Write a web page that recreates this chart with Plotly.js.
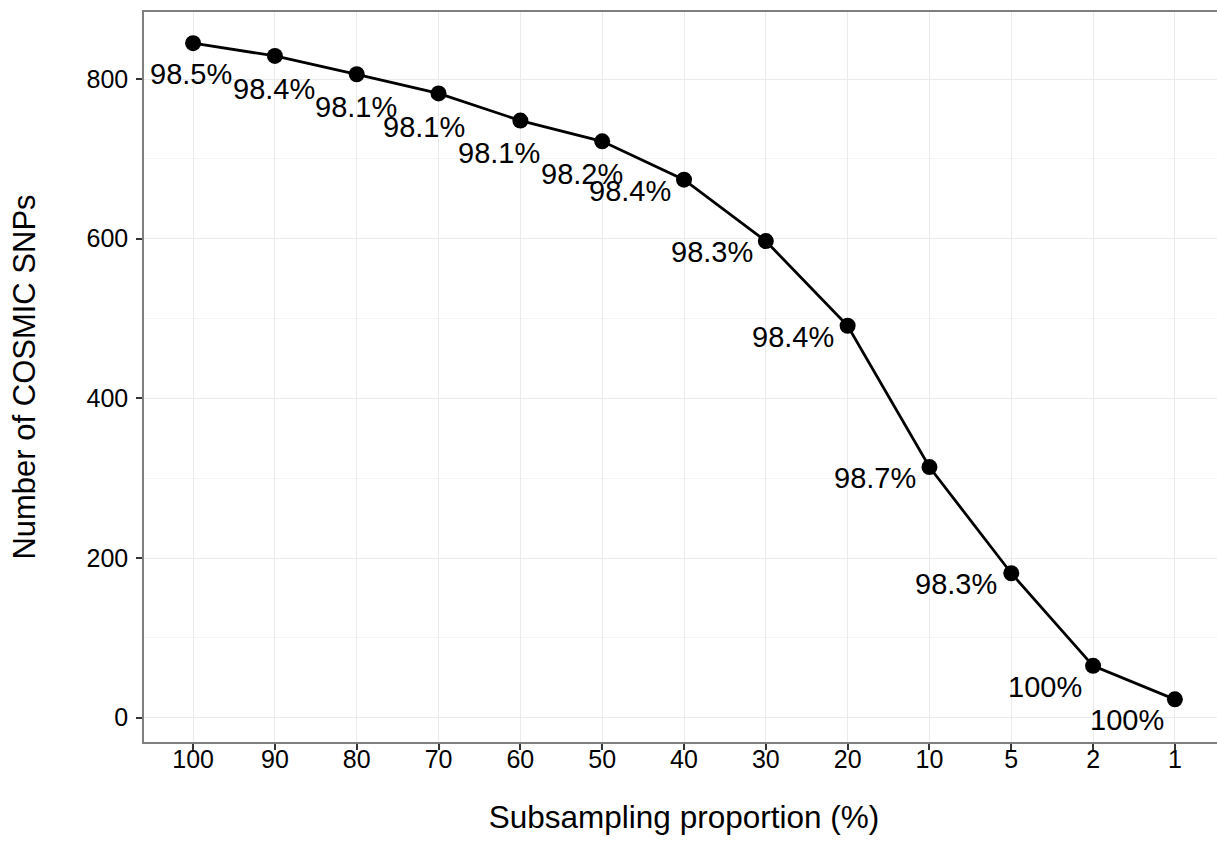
<!DOCTYPE html>
<html>
<head>
<meta charset="utf-8">
<script src="https://cdn.plot.ly/plotly-3.0.1.min.js"></script>
<style>
html, body { margin: 0; padding: 0; overflow: hidden; background: #fff; }
#chart { width: 1224px; height: 842px; }
</style>
</head>
<body>
<div id="chart"></div>
<script>
// Data
var categories = ["100", "90", "80", "70", "60", "50", "40", "30", "20", "10", "5", "2", "1"];
var snpCounts = [845, 829, 806, 782, 748, 722, 674, 597, 491, 314, 181, 65, 23];
var pctLabels = ["98.5%", "98.4%", "98.1%", "98.1%", "98.1%", "98.2%", "98.4%", "98.3%", "98.4%", "98.7%", "98.3%", "100%", "100%"];
var yTicks = [0, 200, 400, 600, 800];

// Label offsets (pixels, style only)
var labelDx = [-2, -1, -1, -15, -21, -20, -54, -54, -55, -54, -55, -48, -48];
var labelDy = [31, 33, 33, 34, 32, 33, 11, 11, 11, 11, 11, 21, 21];

var FONT = '"Liberation Sans", Arial, Helvetica, sans-serif';

var trace = {
  x: categories,
  y: snpCounts,
  type: 'scatter',
  mode: 'lines+markers',
  line: { color: '#000000', width: 2.8 },
  marker: { color: '#000000', size: 16 },
  hoverinfo: 'x+y',
  cliponaxis: false
};

var annotations = categories.map(function (c, i) {
  return {
    x: i, y: snpCounts[i], xref: 'x', yref: 'y',
    text: pctLabels[i], showarrow: false,
    xanchor: 'center', yanchor: 'middle',
    xshift: labelDx[i], yshift: -labelDy[i],
    font: { family: FONT, size: 29, color: '#000000' }
  };
});

var layout = {
  width: 1224,
  height: 842,
  margin: { l: 144, r: 0, t: 12, b: 100 },
  paper_bgcolor: '#ffffff',
  plot_bgcolor: '#ffffff',
  showlegend: false,
  font: { family: FONT, color: '#000000' },
  xaxis: {
    type: 'category',
    categoryorder: 'array',
    categoryarray: categories,
    range: [-0.6, 12.6],
    showgrid: true,
    gridcolor: '#ebebeb',
    gridwidth: 1.2,
    showline: true,
    mirror: true,
    linecolor: '#7f7f7f',
    linewidth: 1.5,
    ticks: 'outside',
    ticklen: 6,
    tickwidth: 1.5,
    tickcolor: '#333333',
    ticklabelstandoff: -12,
    tickfont: { family: FONT, size: 25, color: '#000000' },
    zeroline: false,
    automargin: false,
    title: { text: 'Subsampling proportion (%)', font: { family: FONT, size: 31.5, color: '#000000' }, standoff: 34 }
  },
  yaxis: {
    range: [-30.4, 884],
    tickvals: yTicks,
    ticktext: yTicks.map(String),
    showgrid: true,
    gridcolor: '#ebebeb',
    gridwidth: 1.2,
    minor: { dtick: 100, tick0: 100, showgrid: true, gridcolor: '#f5f5f5', gridwidth: 1, ticks: '' },
    showline: true,
    mirror: true,
    linecolor: '#7f7f7f',
    linewidth: 1.5,
    ticks: 'outside',
    ticklen: 6,
    tickwidth: 1.5,
    tickcolor: '#333333',
    ticklabelstandoff: 3,
    tickfont: { family: FONT, size: 25, color: '#000000' },
    zeroline: false,
    automargin: false,
    title: { text: 'Number of COSMIC SNPs', font: { family: FONT, size: 31, color: '#000000' }, standoff: 42 }
  },
  annotations: annotations
};

Plotly.newPlot('chart', [trace], layout, { displayModeBar: false });
</script>
</body>
</html>
